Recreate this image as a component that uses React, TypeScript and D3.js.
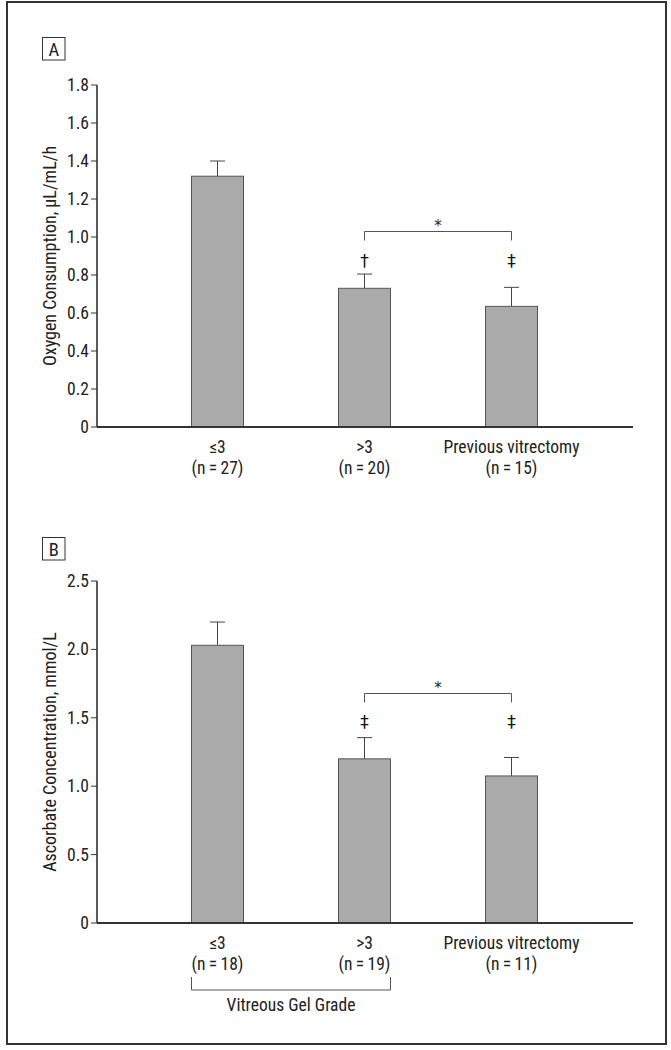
import React from "react";
import * as d3 from "d3";

const categories = ["le3", "gt3", "prev"];
const catLabels = ["≤3", ">3", "Previous vitrectomy"];
const nA = ["(n\u2009=\u200927)", "(n\u2009=\u200920)", "(n\u2009=\u200915)"];
const nB = ["(n\u2009=\u200918)", "(n\u2009=\u200919)", "(n\u2009=\u200911)"];

const oxygenMean = [1.32, 0.73, 0.635];
const oxygenErr = [1.40, 0.805, 0.735];
const oxygenTicks = [0, 0.2, 0.4, 0.6, 0.8, 1.0, 1.2, 1.4, 1.6, 1.8];
const oxygenMarks = ["", "†", "‡"];

const ascMean = [2.03, 1.20, 1.075];
const ascErr = [2.20, 1.355, 1.21];
const ascTicks = [0, 0.5, 1.0, 1.5, 2.0, 2.5];
const ascMarks = ["", "‡", "‡"];

const FONT = "'Liberation Sans Narrow', 'Roboto Condensed', 'Arial Narrow', Roboto, sans-serif";
const TXT = "#222";
const FS = 17.5;

type PanelProps = {
  letter: string;
  letterY: number;
  yTop: number;
  yBottom: number;
  maxV: number;
  ticks: number[];
  fmt: (v: number) => string;
  means: number[];
  errs: number[];
  marks: string[];
  ns: string[];
  title: string;
  bracketY: number;
  markY: number;
  groupBracket: boolean;
};

function Panel(p: PanelProps) {
  const y = d3.scaleLinear().domain([0, p.maxV]).range([p.yBottom, p.yTop]);
  const x = d3.scalePoint<string>().domain(categories).range([217.5, 511.5]);
  const bw = 52;
  const axisX = 97;
  const axisEnd = 633;
  const cap = 15;
  return (
    <g fontFamily={FONT} fill={TXT} fontWeight={400}>
      <rect x={42.5} y={p.letterY} width={22.5} height={22.5} fill="none" stroke="#333" strokeWidth={1} />
      <text x={53.75} y={p.letterY + 18.5} textAnchor="middle" fontSize={18.5}>{p.letter}</text>
      {categories.map((c, i) => (
        <g key={c}>
          <line x1={x(c)} x2={x(c)} y1={y(p.means[i])} y2={y(p.errs[i])} stroke="#444" strokeWidth={1} />
          <line x1={x(c)! - cap / 2} x2={x(c)! + cap / 2} y1={y(p.errs[i])} y2={y(p.errs[i])} stroke="#444" strokeWidth={1} />
          <rect x={x(c)! - bw / 2} y={y(p.means[i])} width={bw} height={y(0) - y(p.means[i])} fill="#aaaaaa" stroke="#555" strokeWidth={1} />
          {p.marks[i] && (
            <text x={x(c)} y={p.markY} textAnchor="middle" fontSize={17} fontFamily="'DejaVu Sans', sans-serif" fill="#111">{p.marks[i]}</text>
          )}
          <text x={x(c)} y={p.yBottom + 25.5} textAnchor="middle" fontSize={FS}>{catLabels[i]}</text>
          <text x={x(c)} y={p.yBottom + 46.5} textAnchor="middle" fontSize={FS}>{p.ns[i]}</text>
        </g>
      ))}
      <path
        d={`M${x("gt3")},${p.bracketY + 9}V${p.bracketY}H${x("prev")}V${p.bracketY + 9}`}
        fill="none" stroke="#555" strokeWidth={1}
      />
      <text x={(x("gt3")! + x("prev")!) / 2} y={p.bracketY - 0.5} textAnchor="middle" fontSize={15} fontFamily="'DejaVu Sans', sans-serif" fill="#222">*</text>
      <line x1={axisX} x2={axisX} y1={p.yTop} y2={p.yBottom} stroke="#333" strokeWidth={1.6} />
      <line x1={axisX} x2={axisEnd} y1={p.yBottom} y2={p.yBottom} stroke="#333" strokeWidth={1.8} />
      {p.ticks.map((t) => (
        <g key={t}>
          <line x1={axisX - 6} x2={axisX} y1={y(t)} y2={y(t)} stroke="#333" strokeWidth={1} />
          <text x={axisX - 8} y={y(t) + 6} textAnchor="end" fontSize={FS}>{p.fmt(t)}</text>
        </g>
      ))}
      <text
        transform={`translate(56,${(p.yTop + p.yBottom) / 2}) rotate(-90)`}
        textAnchor="middle" fontSize={18}
      >{p.title}</text>
      {p.groupBracket && (
        <g>
          <path
            d={`M${x("le3")! - bw / 2},${p.yBottom + 54}V${p.yBottom + 67}H${x("gt3")! + bw / 2}V${p.yBottom + 54}`}
            fill="none" stroke="#555" strokeWidth={1}
          />
          <text x={(x("le3")! + x("gt3")!) / 2} y={p.yBottom + 88} textAnchor="middle" fontSize={FS}>Vitreous Gel Grade</text>
        </g>
      )}
    </g>
  );
}

export default function App() {
  return (
    <svg width={671} height={1050} style={{ position: "absolute", left: 0, top: 0, background: "#fff" }}>
      <rect x={0} y={0} width={671} height={1050} fill="#fff" />
      <rect x={7} y={2} width={659} height={1042} fill="none" stroke="#333" strokeWidth={2} />
      <Panel
        letter="A" letterY={37.5} yTop={85} yBottom={427} maxV={1.8}
        ticks={oxygenTicks} fmt={(v) => (v === 0 ? "0" : d3.format(".1f")(v))}
        means={oxygenMean} errs={oxygenErr} marks={oxygenMarks} ns={nA}
        title="Oxygen Consumption, µL/mL/h" bracketY={231.5} markY={267} groupBracket={false}
      />
      <Panel
        letter="B" letterY={537.5} yTop={581} yBottom={923} maxV={2.5}
        ticks={ascTicks} fmt={(v) => (v === 0 ? "0" : d3.format(".1f")(v))}
        means={ascMean} errs={ascErr} marks={ascMarks} ns={nB}
        title="Ascorbate Concentration, mmol/L" bracketY={693.5} markY={728} groupBracket={true}
      />
    </svg>
  );
}
